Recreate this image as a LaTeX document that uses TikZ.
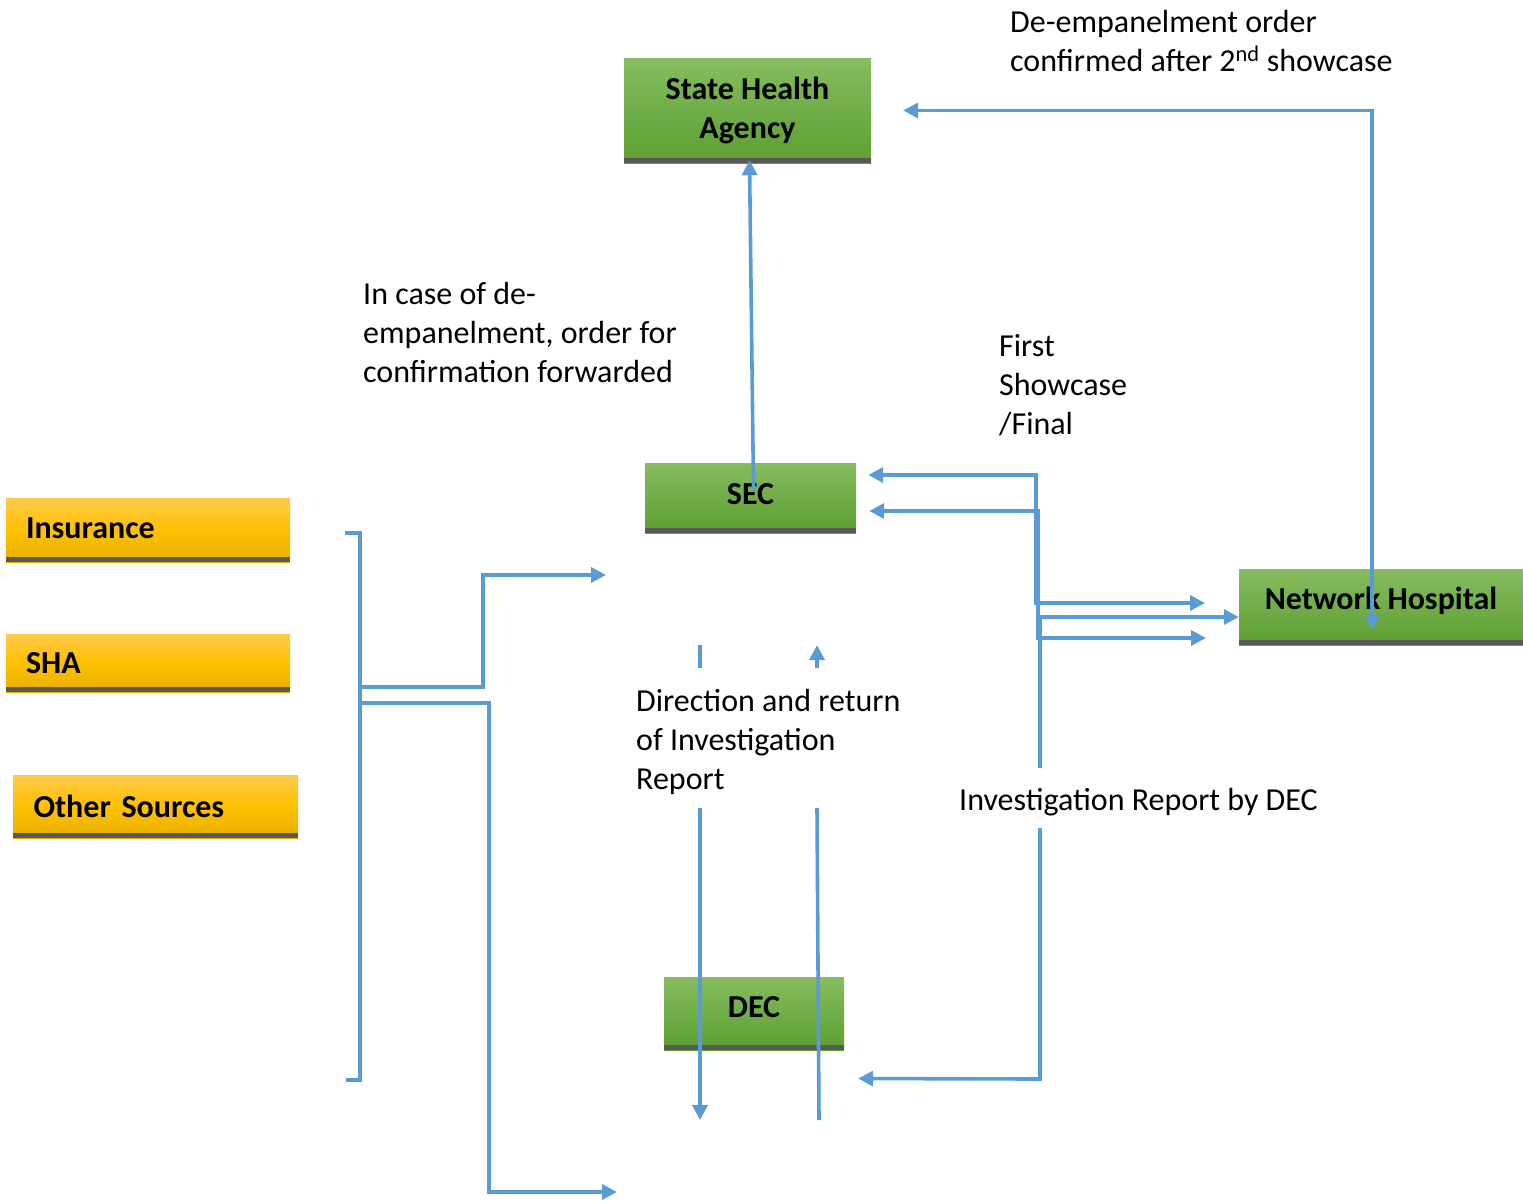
\documentclass[tikz,border=0pt]{standalone}
\usepackage{fontspec}
\setmainfont{Carlito}
\usetikzlibrary{arrows.meta,calc}
\definecolor{lnblue}{HTML}{5B9BD5}
\definecolor{gtop}{HTML}{86BD60}
\definecolor{gmid}{HTML}{70AD47}
\definecolor{gbot}{HTML}{5E9E33}
\definecolor{ytop}{HTML}{FFCA4A}
\definecolor{ymid}{HTML}{FFC000}
\definecolor{ybot}{HTML}{E6B000}
\definecolor{barcol}{HTML}{595959}
\newcommand{\liftup}[2]{\raisebox{#1}[\height][\depth]{#2}}
\begin{document}
\begin{tikzpicture}[x=1pt,y=-1pt,
  fnt/.style={font=\fontsize{32}{39}\selectfont},
  txt/.style={fnt, inner sep=0pt, align=left, anchor=base west},
  boxbase/.style={fnt, font=\fontsize{32}{39}\selectfont\bfseries, inner sep=0pt,
    path picture={\fill[barcol] (path picture bounding box.south west) rectangle ([yshift=5pt]path picture bounding box.south east);}},
  greenbox/.style={boxbase, top color=gtop, bottom color=gbot, middle color=gmid, align=center},
  yellowbox/.style={boxbase, top color=ytop, bottom color=ybot, middle color=ymid, align=left},
  conn/.style={draw=lnblue, line width=3.6pt},
  tip/.style={-{Triangle[length=15pt,width=15pt]}},
  tips/.style={{Triangle[length=15pt,width=15pt]}-{Triangle[length=15pt,width=15pt]}}
]
\useasboundingbox (0,0) rectangle (1523,1203);

% boxes
\node[greenbox, minimum width=247pt, minimum height=105pt] (sha) at (747.5,110.5) {State Health\\Agency};
\node[greenbox, minimum width=211pt, minimum height=70pt] (sec) at (750.5,498) {\liftup{4pt}{SEC}};
\node[greenbox, minimum width=284pt, minimum height=76pt] (nh) at (1381,607) {\liftup{6pt}{Network Hospital}};
\node[greenbox, minimum width=180pt, minimum height=73pt] (dec) at (754,1013.5) {\liftup{6pt}{DEC}};
\node[yellowbox, minimum width=284pt, minimum height=64pt, text width=244pt] (ins) at (148,530) {\liftup{2pt}{Insurance}};
\node[yellowbox, minimum width=284pt, minimum height=58pt, text width=244pt] (shay) at (148,663) {SHA};
\node[yellowbox, minimum width=285pt, minimum height=63pt, text width=244pt] (oth) at (155.5,806.5) {Other Sources};

% texts (anchored at the baseline of the last line)
\node[txt] (t1) at (1010,71) {De-empanelment order\\confirmed after 2\textsuperscript{nd} showcase};
\node[txt] (t2) at (363,382) {In case of de-\\empanelment, order for\\confirmation forwarded};
\node[txt] (t3) at (999,434) {First\\Showcase\\/Final};
\node[txt] (t4) at (636,789) {Direction and return\\of Investigation\\Report};
\node[txt] (t5) at (959,810) {Investigation Report by DEC};

% free-end coordinates
\coordinate (nhin) at (1372,630);
\coordinate (a1) at (1205,603);
\coordinate (a2) at (1206,638);
\coordinate (ir1) at (1040,768);
\coordinate (ir2) at (1040,828);
\coordinate (d1) at (700,645);
\coordinate (d2) at (700,668);
\coordinate (d3) at (817,668);
\coordinate (d4) at (817,645);
\coordinate (d5) at (700,808);
\coordinate (d6) at (700,1120);
\coordinate (d7) at (817,808);
\coordinate (d8) at (819,1120);
\coordinate (b1) at (345,533);
\coordinate (b2) at (346,1080);
\coordinate (o1) at (606,575);
\coordinate (o2) at (617,1192);

% connectors
\draw[conn, tip] ($(sec.center)+(3,-8)$) -- ([xshift=2pt,yshift=3pt]sha.south);
\draw[conn, tips] ([xshift=32pt]sha.east) -| (nhin);
\draw[conn, tips] ($(sec.east)+(12,-23)$) -- (1036,475) -- (1036,603) -- (a1);
\draw[conn, tips] ($(sec.east)+(13,13)$) -- (1038,511) -- (1038,638) -- (a2);
\draw[conn, tip] (ir1) -- (1040,617) -- ($(nh.west)+(0,10)$);
\draw[conn, tip] (ir2) -- (1040,1079) -- ($(dec.east)+(14,65)$);
\draw[conn] (d1) -- (d2);
\draw[conn, tip] (d3) -- (d4);
\draw[conn, tip] (d5) -- (d6);
\draw[conn] (d7) -- (d8);
\draw[conn] (b1) -- (360,533) -- (360,1080) -- (b2);
\draw[conn, tip] (360,687) -- (483,687) -- (483,575) -- (o1);
\draw[conn, tip] (360,703) -- (489,703) -- (489,1192) -- (o2);
\end{tikzpicture}
\end{document}
